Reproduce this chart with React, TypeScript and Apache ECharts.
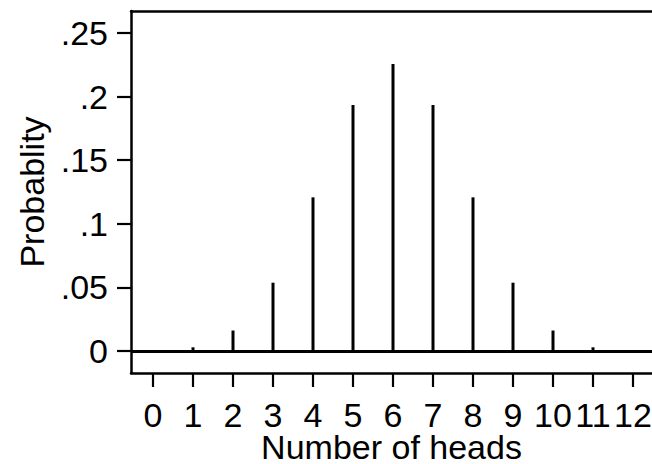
import React, { useEffect, useRef } from "react";
import * as echarts from "echarts";

const heads = [0, 1, 2, 3, 4, 5, 6, 7, 8, 9, 10, 11, 12];
const probability = [0.00024, 0.0029, 0.0161, 0.0537, 0.1208, 0.1934, 0.2256, 0.1934, 0.1208, 0.0537, 0.0161, 0.0029, 0.00024];
const yTicks = [0, 0.05, 0.1, 0.15, 0.2, 0.25];
const xTitle = "Number of heads";
const yTitle = "Probablity";

const FONT = "Liberation Sans, Helvetica, Arial, sans-serif";

export default function App() {
  const ref = useRef<HTMLDivElement>(null);
  useEffect(() => {
    if (!ref.current) return;
    const chart = echarts.init(ref.current, null, { renderer: "svg" });
    const fmtY = (v: number) => {
      if (Math.abs(v) < 1e-9) return "0";
      return String(+v.toFixed(3)).replace(/^0\./, ".");
    };
    chart.setOption({
      animation: false,
      backgroundColor: "#ffffff",
      grid: { left: 131, top: 11, right: 0, bottom: 91, containLabel: false, outerBoundsMode: "none" },
      xAxis: [
        {
          type: "value",
          min: -0.55,
          max: 12.475,
          name: xTitle,
          nameLocation: "middle",
          nameGap: 60,
          nameMoveOverlap: false,
          nameTextStyle: { fontSize: 34, lineHeight: 28, color: "#000", fontFamily: FONT },
          axisLine: { show: true, onZero: false, lineStyle: { color: "#000", width: 2.5 } },
          axisTick: { show: true, length: 14, lineStyle: { color: "#000", width: 2.2 }, customValues: heads },
          axisLabel: { show: true, fontSize: 34, lineHeight: 30, color: "#000", fontFamily: FONT, margin: 27, customValues: heads },
          splitLine: { show: false },
        },
        {
          type: "value",
          position: "top",
          min: -0.55,
          max: 12.475,
          axisLine: { show: true, onZero: false, lineStyle: { color: "#000", width: 2.5 } },
          axisTick: { show: false },
          axisLabel: { show: false },
          splitLine: { show: false },
        },
      ],
      yAxis: {
        type: "value",
        min: -0.0173,
        max: 0.2673,
        name: yTitle,
        nameLocation: "middle",
        nameGap: 82,
        nameMoveOverlap: false,
        nameTextStyle: { fontSize: 34, color: "#000", fontFamily: FONT },
        axisLine: { show: true, onZero: false, lineStyle: { color: "#000", width: 2.5 } },
        axisTick: { show: true, length: 14, lineStyle: { color: "#000", width: 2.2 }, customValues: yTicks },
        axisLabel: { show: true, fontSize: 34, color: "#000", fontFamily: FONT, margin: 23, customValues: yTicks, formatter: fmtY },
        splitLine: { show: false },
      },
      series: [
        {
          type: "bar",
          xAxisIndex: 0,
          data: heads.map((h, i) => [h, probability[i]]),
          barWidth: 3,
          itemStyle: { color: "#000" },
          silent: true,
          markLine: {
            silent: true,
            symbol: "none",
            label: { show: false },
            lineStyle: { color: "#000", width: 3, type: "solid" },
            data: [{ yAxis: 0 }],
          },
        },
      ],
    });
    return () => chart.dispose();
  }, []);
  return <div ref={ref} style={{ position: "fixed", left: 0, top: 0, width: 652, height: 464 }} />;
}
